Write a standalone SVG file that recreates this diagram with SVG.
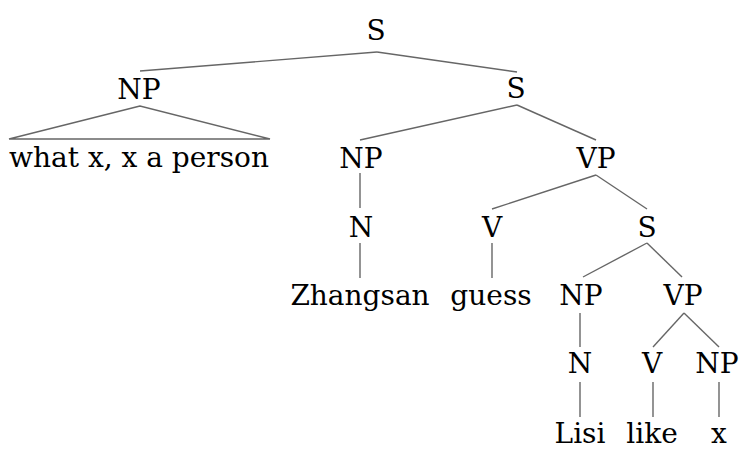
<svg xmlns="http://www.w3.org/2000/svg" width="741" height="450" viewBox="0 0 741 450">
<style>
text{font-family:"DejaVu Serif",serif;font-size:28px;fill:#000;text-anchor:middle}
.e line, .e polygon{stroke:#666;stroke-width:1.4;fill:none}
</style>
<rect width="741" height="450" fill="#fff"/>
<g class="e" id="connectors">
<line x1="377" y1="52" x2="140" y2="71"/>
<line x1="377" y1="52" x2="517" y2="72"/>
<polygon points="140,106 9,139 270,139"/>
<line x1="517" y1="105" x2="360" y2="140"/>
<line x1="517" y1="105" x2="596" y2="140"/>
<line x1="360" y1="173" x2="360" y2="208"/>
<line x1="596" y1="175" x2="492" y2="209"/>
<line x1="596" y1="175" x2="647" y2="209"/>
<line x1="360" y1="243" x2="360" y2="278"/>
<line x1="492" y1="243" x2="492" y2="278"/>
<line x1="647" y1="243" x2="583" y2="277"/>
<line x1="647" y1="243" x2="682" y2="277"/>
<line x1="580" y1="313" x2="580" y2="347"/>
<line x1="684" y1="313" x2="653" y2="347"/>
<line x1="684" y1="313" x2="719" y2="347"/>
<line x1="580" y1="382" x2="580" y2="417"/>
<line x1="653" y1="382" x2="653" y2="417"/>
<line x1="719" y1="382" x2="719" y2="417"/>
</g>
<g id="n-s0"><text x="376" y="40">S</text></g>
<g id="n-np1"><text x="139" y="99">NP</text></g>
<g id="n-what"><text x="139" y="167">what x, x a person</text></g>
<g id="n-s1"><text x="516" y="98">S</text></g>
<g id="n-np2"><text x="361" y="168">NP</text></g>
<g id="n-vp1"><text x="596" y="168">VP</text></g>
<g id="n-n1"><text x="361" y="237">N</text></g>
<g id="n-v1"><text x="492" y="237">V</text></g>
<g id="n-s2"><text x="647" y="237">S</text></g>
<g id="n-zhangsan"><text x="360" y="305">Zhangsan</text></g>
<g id="n-guess"><text x="491" y="305">guess</text></g>
<g id="n-np3"><text x="581" y="305">NP</text></g>
<g id="n-vp2"><text x="683" y="305">VP</text></g>
<g id="n-n2"><text x="580" y="373">N</text></g>
<g id="n-v2"><text x="652" y="373">V</text></g>
<g id="n-np4"><text x="717" y="373">NP</text></g>
<g id="n-lisi"><text x="580" y="443">Lisi</text></g>
<g id="n-like"><text x="652" y="443">like</text></g>
<g id="n-x"><text x="719" y="443">x</text></g>
</svg>
